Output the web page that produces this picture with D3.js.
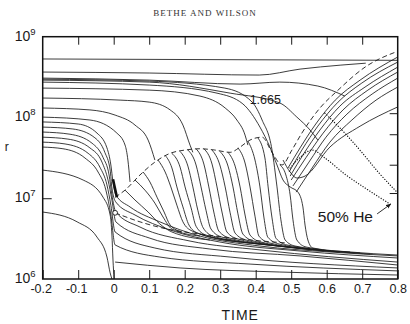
<!DOCTYPE html>
<html>
<head>
<meta charset="utf-8">
<script src="https://cdn.jsdelivr.net/npm/d3@7"></script>
<style>
  body { margin: 0; background: #fff; }
  svg text { font-family: "Liberation Sans", Arial, sans-serif; fill: #1a1a1a; }
  svg text.title { font-family: "Liberation Serif", serif; fill: #333; }
</style>
</head>
<body>
<div class="chart"></div>
<script>
// tick values
let xTicks = [-0.2, -0.1, 0, 0.1, 0.2, 0.3, 0.4, 0.5, 0.6, 0.7, 0.8];
let xLabels = ["-0.2", "-0.1", "0", "0.1", "0.2", "0.3", "0.4", "0.5", "0.6", "0.7", "0.8"];
let yTicks = [1e6, 1e7, 1e8, 1e9];
let yExps = ["6", "7", "8", "9"];
let leftTicks = [1e7];
let rightTicks = [1.13e8, 6.2e7, 2.6e7, 1.16e7];

// outer shells, [time, r]
let c1 = [[-0.2, 5.3e8], [0.8, 5.1e8]];
let c2 = [[-0.2, 3.65e8], [0.10, 3.55e8], [0.41, 3.35e8], [0.525, 3.97e8], [0.64, 4.45e8], [0.71, 4.7e8]];
let c3 = [[-0.2, 3.07e8], [0.10, 2.9e8], [0.356, 2.59e8], [0.468, 2.74e8], [0.575, 2.45e8], [0.651, 1.84e8]];
let c4 = [[-0.2, 2.9e8], [0.10, 2.74e8], [0.328, 2.0e8], [0.468, 1.51e8], [0.516, 1.01e8], [0.553, 7.0e7], [0.575, 5.25e7]];
let c5 = [[-0.2, 2.74e8], [0.10, 2.52e8], [0.291, 2.0e8], [0.364, 1.47e8], [0.412, 7.6e7], [0.44, 4.3e7], [0.46, 2.58e7],
  [0.477, 1.68e7], [0.497, 1.38e7], [0.519, 1.19e7], [0.533, 7.8e6], [0.539, 4.66e6], [0.547, 3.04e6], [0.561, 2.42e6],
  [0.666, 2.16e6], [0.8, 1.98e6]];
let c6 = [[-0.2, 2.31e8], [0.10, 2.18e8], [0.243, 1.84e8], [0.314, 1.31e8], [0.347, 9.3e7], [0.37, 6.05e7], [0.378, 4.55e7]];
let c7 = [[-0.2, 2.98e8], [0.10, 2.82e8], [0.313, 2.31e8], [0.39, 1.55e8], [0.418, 9.3e7], [0.446, 3.95e7], [0.46, 1.38e7],
  [0.471, 5.4e6], [0.483, 3.04e6], [0.511, 2.56e6], [0.694, 2.1e6]];
let ca = [[-0.2, 1.74e8], [0.018, 1.64e8], [0.10, 1.55e8], [0.159, 1.24e8], [0.195, 8.05e7], [0.215, 4.55e7], [0.223, 3.7e7]];
let cb = [[-0.2, 1.31e8], [-0.067, 1.24e8], [0.004, 1.07e8], [0.06, 8.05e7], [0.097, 5.25e7], [0.116, 2.97e7]];
let cc = [[-0.2, 1.01e8], [-0.067, 9.3e7], [0.009, 6.4e7], [0.032, 4.55e7], [0.04, 2.97e7], [0.046, 1.59e7]];

// inner shells that collapse at t = 0 and settle
let cd = [[-0.2, 8.8e7], [-0.1, 8.3e7], [-0.047, 6.4e7], [-0.019, 4.2e7], [-0.008, 2.58e7], [-0.002, 1.59e7], [0.006, 1.1e7],
  [0.046, 7.8e6], [0.13, 5.1e6], [0.243, 3.4e6], [0.412, 2.56e6], [0.609, 2.16e6], [0.8, 1.93e6]];
let ce = [[-0.2, 7.6e7], [-0.115, 7.2e7], [-0.053, 5.6e7], [-0.025, 3.7e7], [-0.01, 2.23e7], [-0.005, 1.34e7], [0.006, 8.97e6],
  [0.06, 6.2e6], [0.159, 4.04e6], [0.299, 2.87e6], [0.525, 2.22e6], [0.8, 1.82e6]];
let cf = [[-0.2, 6.6e7], [-0.123, 6.2e7], [-0.061, 4.8e7], [-0.03, 3.2e7], [-0.013, 1.94e7], [-0.005, 1.1e7], [0.006, 6.75e6],
  [0.074, 4.4e6], [0.215, 2.95e6], [0.412, 2.29e6], [0.8, 1.62e6]];
let cg = [[-0.2, 5.7e7], [-0.129, 5.4e7], [-0.067, 4.2e7], [-0.033, 2.8e7], [-0.016, 1.68e7], [-0.005, 9.5e6], [0.006, 5.1e6],
  [0.102, 3.2e6], [0.271, 2.35e6], [0.525, 1.93e6], [0.8, 1.49e6]];
let ch = [[-0.2, 4.95e7], [-0.137, 4.7e7], [-0.072, 3.6e7], [-0.039, 2.43e7], [-0.019, 1.46e7], [-0.008, 8.2e6], [0.004, 3.82e6],
  [0.116, 2.42e6], [0.328, 1.87e6], [0.8, 1.37e6]];
let ci = [[-0.2, 4.3e7], [-0.143, 4.1e7], [-0.081, 3.15e7], [-0.044, 2.11e7], [-0.022, 1.26e7], [-0.008, 6.2e6], [0.004, 2.64e6],
  [0.13, 1.87e6], [0.384, 1.53e6], [0.8, 1.26e6]];
let cj = [[-0.2, 2.23e7], [-0.086, 1.68e7], [-0.03, 1.03e7], [-0.01, 6.2e6], [-0.005, 3.5e6], [-0.002, 1.72e6], [0.001, 1.0e6]];
let ck = [[-0.2, 6.75e6], [-0.103, 5.1e6], [-0.047, 3.3e6], [-0.019, 1.87e6], [-0.01, 1.19e6], [-0.005, 1.0e6]];
let cl = [[0.004, 1.62e6], [0.187, 1.37e6], [0.468, 1.22e6], [0.8, 1.12e6]];
let jam = [[-0.002, 1.72e7], [0.009, 1.03e7]];

// shells falling from the shock front
let l1 = [[0.032, 1.26e7], [0.06, 9.5e6], [0.097, 6.75e6], [0.13, 4.8e6], [0.164, 3.82e6], [0.271, 3.04e6]];
let l2 = [[0.06, 1.68e7], [0.088, 1.26e7], [0.116, 8.7e6], [0.139, 5.85e6], [0.164, 4.16e6], [0.243, 3.4e6]];
let l3 = [[0.083, 2.11e7], [0.102, 1.59e7], [0.122, 1.03e7], [0.142, 6.75e6], [0.159, 4.66e6], [0.192, 3.82e6]];
let s1 = [[0.125, 2.97e7], [0.145, 2.11e7], [0.161, 1.38e7], [0.178, 8.2e6], [0.195, 5.1e6], [0.221, 3.93e6], [0.328, 3.04e6]];
let s2 = [[0.145, 3.4e7], [0.164, 2.37e7], [0.178, 1.38e7], [0.195, 7.8e6], [0.212, 4.66e6], [0.237, 3.7e6], [0.356, 2.87e6]];
let s3 = [[0.164, 3.6e7], [0.187, 2.43e7], [0.201, 1.38e7], [0.218, 7.6e6], [0.232, 4.5e6], [0.26, 3.5e6], [0.384, 2.79e6]];
let s4 = [[0.187, 3.8e7], [0.209, 2.5e7], [0.223, 1.38e7], [0.237, 7.1e6], [0.252, 4.3e6], [0.28, 3.4e6], [0.412, 2.71e6]];
let s5 = [[0.209, 3.95e7], [0.232, 2.58e7], [0.246, 1.38e7], [0.26, 7.1e6], [0.274, 4.16e6], [0.305, 3.3e6], [0.44, 2.64e6]];
let s6 = [[0.232, 4.1e7], [0.254, 2.65e7], [0.268, 1.38e7], [0.282, 6.75e6], [0.296, 3.93e6], [0.328, 3.2e6], [0.468, 2.56e6]];
let s7 = [[0.254, 4.1e7], [0.277, 2.65e7], [0.291, 1.38e7], [0.305, 6.75e6], [0.319, 3.82e6], [0.35, 3.13e6], [0.497, 2.49e6]];
let s8 = [[0.277, 3.95e7], [0.299, 2.58e7], [0.314, 1.38e7], [0.328, 6.6e6], [0.342, 3.7e6], [0.373, 3.04e6], [0.525, 2.42e6]];
let s9 = [[0.299, 3.8e7], [0.322, 2.5e7], [0.336, 1.38e7], [0.35, 6.4e6], [0.364, 3.6e6], [0.395, 2.95e6], [0.553, 2.35e6]];
let s10 = [[0.322, 3.7e7], [0.342, 2.5e7], [0.356, 1.38e7], [0.37, 6.2e6], [0.384, 3.5e6], [0.415, 2.87e6], [0.581, 2.29e6]];
let s11 = [[0.35, 4.2e7], [0.37, 2.73e7], [0.384, 1.38e7], [0.398, 6.0e6], [0.409, 3.4e6], [0.44, 2.79e6], [0.609, 2.22e6]];
let s12 = [[0.378, 5.1e7], [0.398, 2.97e7], [0.412, 1.38e7], [0.423, 5.85e6], [0.434, 3.3e6], [0.466, 2.71e6], [0.637, 2.16e6]];
let s13 = [[0.406, 5.6e7], [0.426, 3.15e7], [0.435, 1.38e7], [0.446, 5.7e6], [0.457, 3.2e6], [0.488, 2.64e6], [0.666, 2.16e6]];
let s15 = [[0.468, 2.58e7], [0.485, 1.94e7], [0.497, 1.1e7], [0.505, 5.4e6], [0.516, 3.04e6], [0.542, 2.49e6], [0.722, 2.04e6]];

// ejected shells
let b1 = [[0.491, 2.37e7], [0.525, 4.2e7], [0.567, 8.05e7], [0.624, 1.64e8], [0.694, 2.9e8], [0.8, 5.6e8]];
let b2 = [[0.494, 2.11e7], [0.53, 3.95e7], [0.575, 7.8e7], [0.632, 1.55e8], [0.699, 2.67e8], [0.8, 4.85e8]];
let b3 = [[0.497, 1.88e7], [0.536, 3.6e7], [0.581, 7.0e7], [0.637, 1.38e8], [0.708, 2.38e8], [0.8, 4.2e8]];
let b4 = [[0.5, 1.68e7], [0.542, 3.2e7], [0.59, 6.4e7], [0.646, 1.24e8], [0.716, 2.18e8], [0.8, 3.65e8]];
let b5 = [[0.505, 1.42e7], [0.55, 2.8e7], [0.598, 5.7e7], [0.657, 1.1e8], [0.728, 1.95e8], [0.8, 3.07e8]];
let b6 = [[0.514, 1.19e7], [0.559, 2.37e7], [0.609, 4.95e7], [0.671, 9.3e7], [0.739, 1.64e8], [0.8, 2.38e8]];
let b7 = [[0.477, 2.97e7], [0.497, 2.11e7], [0.516, 1.78e7], [0.539, 1.88e7], [0.609, 4.3e7], [0.694, 7.8e7], [0.8, 1.35e8]];

// shock (dashed), inner boundary (dashed), 50% He (dotted)
let shock = [[0.004, 1.03e7], [0.032, 1.26e7], [0.074, 1.94e7], [0.116, 2.8e7], [0.159, 3.6e7], [0.201, 3.95e7], [0.243, 4.1e7],
  [0.285, 3.95e7], [0.328, 3.7e7], [0.356, 4.3e7], [0.384, 5.25e7], [0.418, 5.7e7], [0.446, 3.7e7], [0.474, 2.58e7],
  [0.502, 3.95e7], [0.53, 6.4e7], [0.581, 1.31e8], [0.632, 2.18e8], [0.708, 4.2e8], [0.8, 6.6e8]];
let inner = [[0.004, 6.6e6], [0.074, 5.1e6], [0.15, 4.16e6], [0.243, 3.6e6], [0.356, 3.13e6], [0.488, 2.79e6]];
let he1 = [[0.595, 1.13e8], [0.651, 6.4e7], [0.699, 3.7e7], [0.745, 2.11e7], [0.798, 1.19e7]];
let he2 = [[0.497, 2.37e7], [0.525, 3.2e7], [0.559, 3.95e7], [0.595, 3.15e7], [0.651, 1.99e7], [0.708, 1.34e7], [0.778, 8.5e6]];
let heArrow = [[0.742, 6.4e6], [0.781, 8.5e6]];

let solidCurves = [c1, c2, c3, c4, c5, c6, c7, ca, cb, cc, cd, ce, cf, cg, ch, ci, cj, ck, cl,
  l1, l2, l3, s1, s2, s3, s4, s5, s6, s7, s8, s9, s10, s11, s12, s13, s15,
  b1, b2, b3, b4, b5, b6, b7];

let svgWidth = 410;
let svgHeight = 324;
let margin = { top: 36.7, right: 12.3, bottom: 45, left: 42.7 };
let width = svgWidth - margin.left - margin.right;
let height = svgHeight - margin.top - margin.bottom;

let svg = d3.select(".chart")
  .append("svg")
  .attr("width", svgWidth)
  .attr("height", svgHeight);

svg.append("defs").append("marker")
  .attr("id", "arrow")
  .attr("viewBox", "0 0 10 10")
  .attr("refX", 9).attr("refY", 5)
  .attr("markerWidth", 6).attr("markerHeight", 6)
  .attr("orient", "auto")
  .append("path")
  .attr("d", "M0,1L10,5L0,9z")
  .attr("fill", "#1a1a1a");

let chartGroup = svg.append("g")
  .attr("transform", `translate(${margin.left}, ${margin.top})`);

let xScale = d3.scaleLinear().domain([-0.2, 0.8]).range([0, width]);
let yScale = d3.scaleLog().domain([1e6, 1e9]).range([height, 0]);

let line = d3.line()
  .x(d => xScale(d[0]))
  .y(d => yScale(d[1]))
  .curve(d3.curveMonotoneX);

let plot = chartGroup.append("g");

plot.selectAll(".shell")
  .data(solidCurves)
  .enter()
  .append("path")
  .attr("class", "shell")
  .attr("d", line)
  .attr("fill", "none")
  .attr("stroke", "#1a1a1a")
  .attr("stroke-width", 0.85);

plot.append("path").attr("d", line(jam))
  .attr("fill", "none").attr("stroke", "#111").attr("stroke-width", 2.6);

plot.selectAll(".dashed")
  .data([shock, inner])
  .enter()
  .append("path")
  .attr("d", line)
  .attr("fill", "none")
  .attr("stroke", "#1a1a1a")
  .attr("stroke-width", 0.9)
  .attr("stroke-dasharray", "5,3");

plot.selectAll(".dotted")
  .data([he1, he2])
  .enter()
  .append("path")
  .attr("d", line)
  .attr("fill", "none")
  .attr("stroke", "#1a1a1a")
  .attr("stroke-width", 1.3)
  .attr("stroke-linecap", "round")
  .attr("stroke-dasharray", "0.1,2.6");

plot.append("circle")
  .attr("cx", xScale(inner[0][0]))
  .attr("cy", yScale(inner[0][1]))
  .attr("r", 2.4)
  .attr("fill", "#fff")
  .attr("stroke", "#1a1a1a")
  .attr("stroke-width", 0.9);

plot.append("path")
  .attr("d", d3.line().x(d => xScale(d[0])).y(d => yScale(d[1]))(heArrow))
  .attr("stroke", "#1a1a1a")
  .attr("stroke-width", 0.9)
  .attr("marker-end", "url(#arrow)");

// axes, ticks pointing inward
let bottomAxis = d3.axisBottom(xScale)
  .tickValues(xTicks)
  .tickSize(-9)
  .tickPadding(5)
  .tickFormat((d, i) => xLabels[i]);

let xAxisG = chartGroup.append("g")
  .attr("transform", `translate(0, ${height})`)
  .call(bottomAxis);
xAxisG.select(".domain").remove();
xAxisG.selectAll("text")
  .attr("font-size", 12.5)
  .attr("fill", "#1a1a1a")
  .attr("dx", d => d < 0 ? -2 : 0);
xAxisG.selectAll("line").attr("stroke", "#1a1a1a");

let topAxis = d3.axisTop(xScale)
  .tickValues(xTicks.slice(1, -1))
  .tickSize(-8)
  .tickFormat("");
let topG = chartGroup.append("g").call(topAxis);
topG.select(".domain").remove();
topG.selectAll("line").attr("stroke", "#1a1a1a");

let leftAxis = d3.axisLeft(yScale).tickValues(leftTicks).tickSize(-9).tickFormat("");
let leftG = chartGroup.append("g").call(leftAxis);
leftG.select(".domain").remove();
leftG.selectAll("line").attr("stroke", "#1a1a1a");

let rightAxis = d3.axisRight(yScale).tickValues(rightTicks).tickSize(-8).tickFormat("");
let rightG = chartGroup.append("g").attr("transform", `translate(${width}, 0)`).call(rightAxis);
rightG.select(".domain").remove();
rightG.selectAll("line").attr("stroke", "#1a1a1a");

// frame
chartGroup.append("rect")
  .attr("width", width)
  .attr("height", height)
  .attr("fill", "none")
  .attr("stroke", "#111")
  .attr("stroke-width", 1.5);

// powers of ten on the left
let yLab = chartGroup.selectAll(".ylab")
  .data(yTicks)
  .enter()
  .append("text")
  .attr("class", "ylab")
  .attr("x", -28)
  .attr("y", d => Math.max(yScale(d), 0) + 4)
  .attr("font-size", 14);
yLab.append("tspan").text("10");
yLab.append("tspan")
  .attr("dy", -6)
  .attr("font-size", 9.5)
  .text((d, i) => yExps[i]);

// labels
chartGroup.append("text")
  .attr("x", -38)
  .attr("y", 114)
  .attr("font-size", 12)
  .text("r");

chartGroup.append("text")
  .attr("x", width / 2 + 20)
  .attr("y", height + 41)
  .attr("text-anchor", "middle")
  .attr("font-size", 14)
  .attr("letter-spacing", 1)
  .text("TIME");

chartGroup.append("text")
  .attr("x", xScale(0.383))
  .attr("y", yScale(1.47e8))
  .attr("font-size", 12.5)
  .text("1.665");

chartGroup.append("text")
  .attr("x", xScale(0.575))
  .attr("y", yScale(5.1e6))
  .attr("font-size", 15.5)
  .text("50% He");

svg.append("text")
  .attr("class", "title")
  .attr("x", 205)
  .attr("y", 16)
  .attr("text-anchor", "middle")
  .attr("font-size", 9)
  .attr("letter-spacing", 1)
  .text("BETHE AND WILSON");
</script>
</body>
</html>
